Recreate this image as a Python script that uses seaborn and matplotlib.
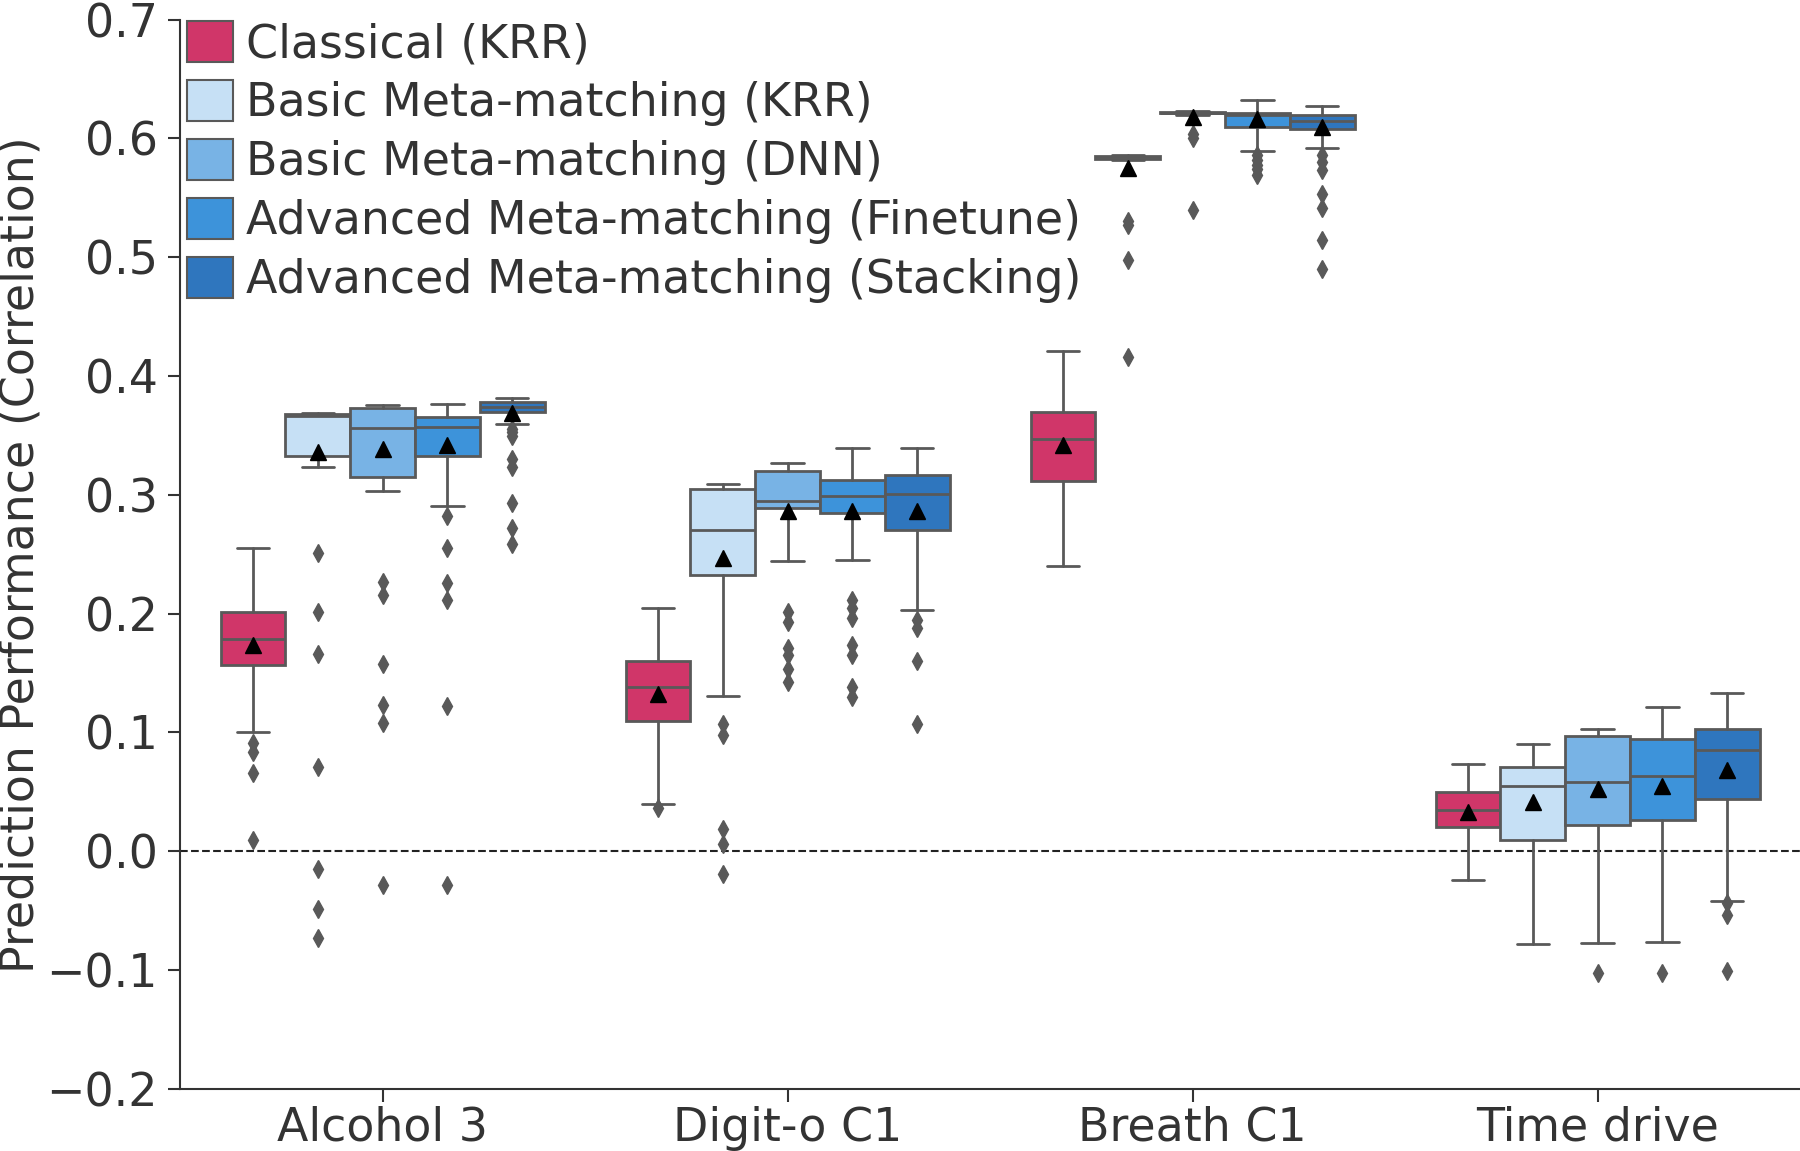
import numpy as np
import matplotlib
matplotlib.use("Agg")
import matplotlib.pyplot as plt
from matplotlib.patches import Patch
import seaborn as sns

# 类别与方法
categories = ["Alcohol 3", "Digit-o C1", "Breath C1", "Time drive"]
methods = [
    "Classical (KRR)",
    "Basic Meta-matching (KRR)",
    "Basic Meta-matching (DNN)",
    "Advanced Meta-matching (Finetune)",
    "Advanced Meta-matching (Stacking)",
]
colors = ["#D03669", "#C6E0F5", "#78B3E5", "#3D93DA", "#2F76BE"]

# 箱线图统计量，行 = 方法，列 = 类别
whis_lo = [
    [0.100, 0.040, 0.240, -0.024],
    [0.3235, 0.131, 0.582, -0.078],
    [0.303, 0.2443, 0.620, -0.0772],
    [0.2903, 0.2451, 0.5893, -0.0763],
    [0.360, 0.2029, 0.5916, -0.0418],
]
q1 = [
    [0.157, 0.110, 0.312, 0.020],
    [0.333, 0.2325, 0.583, 0.0093],
    [0.3147, 0.289, 0.621, 0.0219],
    [0.3325, 0.2847, 0.6093, 0.026],
    [0.370, 0.270, 0.6078, 0.0442],
]
medians = [
    [0.179, 0.138, 0.347, 0.0345],
    [0.366, 0.270, 0.584, 0.0547],
    [0.356, 0.2948, 0.6215, 0.0583],
    [0.3569, 0.299, 0.620, 0.063],
    [0.374, 0.3005, 0.6143, 0.085],
]
q3 = [
    [0.201, 0.160, 0.370, 0.050],
    [0.3676, 0.305, 0.585, 0.071],
    [0.3727, 0.3199, 0.6225, 0.0968],
    [0.3653, 0.3123, 0.621, 0.0947],
    [0.3785, 0.317, 0.6196, 0.103],
]
whis_hi = [
    [0.255, 0.205, 0.421, 0.073],
    [0.369, 0.309, 0.586, 0.090],
    [0.3756, 0.3266, 0.623, 0.1027],
    [0.3763, 0.339, 0.632, 0.1215],
    [0.3815, 0.339, 0.627, 0.1334],
]
means = [
    [0.174, 0.132, 0.342, 0.033],
    [0.336, 0.247, 0.5754, 0.0415],
    [0.3386, 0.2865, 0.618, 0.0527],
    [0.3418, 0.2865, 0.6166, 0.0546],
    [0.369, 0.2865, 0.6098, 0.068],
]
fliers = [
    [[0.091, 0.0835, 0.0657, 0.0093], [0.036], [], []],
    [[0.251, 0.2017, 0.1656, 0.0712, -0.0148, -0.049, -0.0734],
     [0.107, 0.098, 0.019, 0.006, -0.019],
     [0.5305, 0.527, 0.4975, 0.416], []],
    [[0.2269, 0.2155, 0.158, 0.1228, 0.1076, -0.0283],
     [0.2014, 0.193, 0.1713, 0.165, 0.1538, 0.1425],
     [0.604, 0.600, 0.5397], [-0.1025]],
    [[0.2825, 0.2551, 0.2259, 0.2117, 0.1221, -0.0283],
     [0.2113, 0.205, 0.1959, 0.1734, 0.165, 0.1383, 0.130],
     [0.586, 0.582, 0.578, 0.574, 0.5694], [-0.1025]],
    [[0.3557, 0.3525, 0.3493, 0.330, 0.3235, 0.2934, 0.2719, 0.2589],
     [0.1944, 0.1875, 0.160, 0.107],
     [0.5857, 0.580, 0.5737, 0.5532, 0.5414, 0.5148, 0.4897],
     [-0.0434, -0.0539, -0.1008]],
]

sns.set_theme(style="ticks")
plt.rcParams["font.family"] = ["DejaVu Sans"]
text_col = "#333333"
edge_col = "#595959"
fs = 33

fig = plt.figure(figsize=(18, 11.51), dpi=100)
ax = fig.add_axes([0.1, 0.054, 0.9, 0.929])

n = len(methods)
width = 0.8 / n
for i, m in enumerate(methods):
    stats = []
    for j in range(len(categories)):
        stats.append({
            "whislo": whis_lo[i][j], "q1": q1[i][j], "med": medians[i][j],
            "q3": q3[i][j], "whishi": whis_hi[i][j], "mean": means[i][j],
            "fliers": np.array(fliers[i][j]),
        })
    pos = np.arange(len(categories)) - 0.4 + width * (i + 0.5)
    ax.bxp(
        stats, positions=pos, widths=width, patch_artist=True,
        showmeans=True, manage_ticks=False,
        boxprops=dict(facecolor=colors[i], edgecolor=edge_col, linewidth=2),
        medianprops=dict(color=edge_col, linewidth=2),
        whiskerprops=dict(color=edge_col, linewidth=2),
        capprops=dict(color=edge_col, linewidth=2),
        flierprops=dict(marker="d", markerfacecolor=edge_col,
                        markeredgecolor=edge_col, markersize=9),
        meanprops=dict(marker="^", markerfacecolor="black",
                       markeredgecolor="black", markersize=11),
    )

ax.axhline(0, color="#222222", linestyle="--", linewidth=1.5, zorder=0)

ax.set_xlim(-0.5, len(categories) - 0.5)
ax.set_ylim(-0.2, 0.7)
ax.set_xticks(range(len(categories)))
ax.set_xticklabels(categories)
yt = np.arange(-0.2, 0.71, 0.1)
ax.set_yticks(yt)
ax.set_yticklabels([f"{v:.1f}".replace("-", "\u2212") for v in yt])
ax.tick_params(labelsize=fs, colors=text_col, length=9, width=1.5, pad=7)
ax.tick_params(axis="x", pad=3)
ax.set_ylabel("Prediction Performance (Correlation)", fontsize=fs,
              color=text_col, labelpad=2)
for s in ["left", "bottom"]:
    ax.spines[s].set_color("#333333")
    ax.spines[s].set_linewidth(1.5)
sns.despine(ax=ax)

handles = [Patch(facecolor=c, edgecolor=edge_col, linewidth=1.5) for c in colors]
leg = ax.legend(handles, methods, loc="upper left", bbox_to_anchor=(0.0, 1.005),
                frameon=False, fontsize=fs, handlelength=1.0, handleheight=1.0,
                handletextpad=0.3, labelspacing=0.28, borderaxespad=0.0,
                borderpad=0.15)
for t in leg.get_texts():
    t.set_color(text_col)

fig.savefig("out.png", dpi=100)
